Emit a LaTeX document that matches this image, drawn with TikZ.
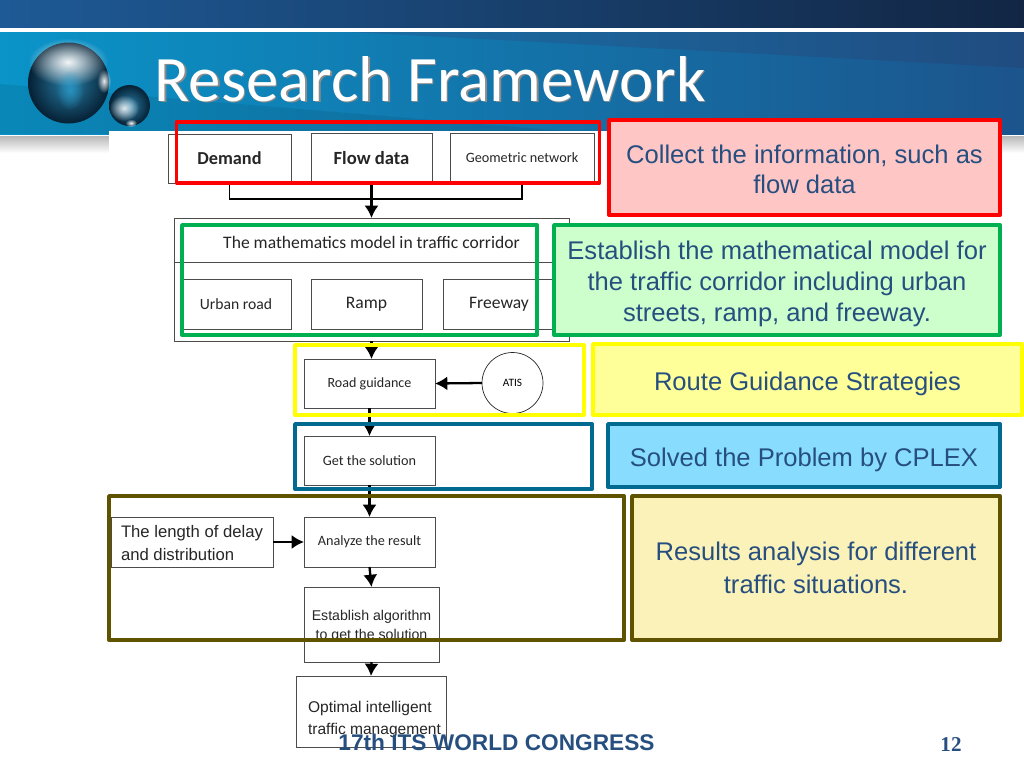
\documentclass[tikz,border=0pt]{standalone}
\usepackage{fontspec}
\setmainfont{Liberation Sans}
\newfontfamily\carlito{Carlito}
\newfontfamily\timesfont{Liberation Serif}
\usetikzlibrary{arrows.meta, fadings}

\definecolor{bodyblue}{HTML}{264F80}
\definecolor{redline}{HTML}{FF0000}
\definecolor{redfill}{HTML}{FFC6C6}
\definecolor{greenline}{HTML}{00B050}
\definecolor{greenfill}{HTML}{CCFFCC}
\definecolor{yellowline}{HTML}{FFFF00}
\definecolor{yellowfill}{HTML}{FFFF99}
\definecolor{blueline}{HTML}{006A90}
\definecolor{bluefill}{HTML}{88DDFF}
\definecolor{oliveline}{HTML}{5F5300}
\definecolor{olivefill}{HTML}{FBF2B9}
\definecolor{topleft}{RGB}{30,90,150}
\definecolor{topright}{RGB}{18,38,68}
\definecolor{bandleft}{RGB}{10,148,200}
\definecolor{bandright}{RGB}{28,84,140}
\definecolor{wedgeleft}{RGB}{25,110,165}
\definecolor{wedgeright}{RGB}{32,76,128}
\definecolor{ballcore}{RGB}{40,125,165}
\definecolor{ballrim}{RGB}{5,32,52}

\tikzfading[name=softspot, inner color=transparent!0, outer color=transparent!100]

\def\px{0.02cm}
\newcommand{\topgap}[1]{\rule{0pt}{#1}}
\tikzset{
	sized/.style 2 args={minimum width=#1*\px, minimum height=#2*\px, inner sep=0pt, outer sep=0pt},
	flowbox/.style 2 args={sized={#1}{#2}, draw=black!70, line width=0.5pt, fill=white, align=center, text=black!85},
	calibri/.style={font=\carlito\fontsize{#1}{12}\selectfont},
	arial/.style={font=\fontsize{#1}{12.8}\selectfont},
	framebox/.style 2 args={sized={#1}{#2}, draw, line width=2.2pt, line join=round},
	infobox/.style 2 args={sized={#1}{#2}, draw, line width=2.2pt, line join=round, align=center, text=bodyblue, font=\fontsize{14.55}{17.4}\selectfont},
	link/.style={-{Latex[length=7pt,width=8pt]}, line width=1.3pt, black},
	spot/.style={path fading=softspot}
}

\begin{document}
\begin{tikzpicture}[x=\px, y=-\px]
	\useasboundingbox (0,0) rectangle (1024,768);
	\fill[white] (0,0) rectangle (1024,768);

	% Header bands
	\shade[left color=topleft, right color=topright] (0,0) rectangle (1024,27);
	\shade[left color=bandleft, right color=bandright] (0,32) rectangle (1024,134);
	\fill[black, opacity=0.08] (0,84) -- (600,134) -- (0,134) -- cycle;
	\shade[left color=wedgeleft, right color=wedgeright] (350,32) -- (1024,32) -- (1024,68) -- cycle;
	\shade[top color=black!28, bottom color=white] (0,136) rectangle (1024,153);
	\fill[white] (109,131) rectangle (607,153);

	% Spheres
	\shade[inner color=ballcore, outer color=ballrim] (68.5,83) circle (40.5);
	\fill[white, opacity=0.95, spot] (68,62) ellipse (40 and 24);
	\fill[cyan!60!teal, opacity=0.8, spot] (70,90) ellipse (14 and 20);
	\fill[white, opacity=0.9, spot] (104,81) ellipse (7 and 12);
	\shade[inner color=ballcore, outer color=ballrim] (129.5,105.5) circle (20.5);
	\fill[white, opacity=0.85, spot] (124,108) ellipse (15 and 13);
	\fill[white, opacity=0.95, spot] (131,123) ellipse (6 and 4);

	% Title
	\node[inner sep=0pt, text=black!45, font=\carlito\fontsize{36.9}{40}\selectfont] (titleshadow) at (431.5,80.5) {Research Framework};
	\node[inner sep=0pt, text=white, font=\carlito\fontsize{36.9}{40}\selectfont] (title) at (430,79) {Research Framework};

	% Input row
	\node[flowbox={123}{49}, font=\carlito\bfseries\fontsize{10.4}{12}\selectfont] (demand) at (229.5,158.5) {Demand};
	\node[flowbox={121}{49}, font=\carlito\bfseries\fontsize{10.6}{12}\selectfont] (flow) at (371.5,158) {Flow data};
	\node[flowbox={144}{49}, calibri=8.1] (geo) at (522,158) {Geometric network};
	\coordinate (bus) at (371.5,199);

	% Model block
	\node[flowbox={395}{44}, calibri=10] (modelhead) at (371.5,240) {\topgap{9.3pt}The mathematics model in traffic corridor};
	\node[flowbox={395}{79}] (modelbody) at (371.5,301.5) {};
	\node[flowbox={110}{50}, calibri=8.9] (urban) at (236,304) {Urban road};
	\node[flowbox={111}{50}, calibri=10] (ramp) at (366.5,304) {Ramp};
	\node[flowbox={112}{50}, calibri=10] (freeway) at (499,304) {Freeway};

	% Middle column
	\node[flowbox={131}{49}, calibri=8] (road) at (369.5,383.5) {Road guidance};
	\node[draw=black!85, circle, minimum size=61*\px, inner sep=0pt, outer sep=0pt, fill=white, calibri=6.4] (atis) at (512.5,383) {ATIS};
	\node[flowbox={131}{49}, calibri=8.1] (solution) at (369.5,460.5) {Get the solution};

	% Lower column
	\node[flowbox={162}{50}, arial=9.5, align=left] (delay) at (192,542) {\topgap{8pt}The length of delay\\and distribution};
	\node[flowbox={131}{50}, calibri=8.1] (analyze) at (369.5,542) {Analyze the result};
	\node[flowbox={135}{75}, font=\fontsize{8.05}{10.8}\selectfont] (establish) at (371.5,624.5) {\topgap{8.2pt}Establish algorithm\\to get the solution};
	\node[flowbox={150}{71}, arial=8.85, align=left] (optimal) at (371,711.5) {\topgap{15.6pt}\hspace*{0.14cm}Optimal intelligent\\\hspace*{0.14cm}traffic management};

	% Connectors
	\draw[line width=0.8pt] (demand.south) |- (bus);
	\draw[line width=0.8pt] (geo.south) |- (bus);
	\draw[link] (flow.south) -- (modelhead.north);
	\draw[link] (modelbody.south) -- (modelbody.south |- road.north);
	\draw[link] (atis.west) -- (road.east);
	\draw[link] (road.south) -- (solution.north);
	\draw[link] (solution.south) -- (analyze.north);
	\draw[link] (delay.east) -- (analyze.west);
	\draw[link] (analyze.south) -- (establish.north);
	\draw[link] (establish.south) -- (optimal.north);

	% Frames over the flow chart
	\node[framebox={423}{61}, draw=redline] (inputframe) at (388,152.5) {};
	\node[framebox={355}{110}, draw=greenline] (modelframe) at (359.5,280) {};
	\node[framebox={289}{70}, draw=yellowline] (guideframe) at (439.5,380) {};
	\node[framebox={297}{65}, draw=blueline] (solveframe) at (443.5,456.5) {};
	\node[framebox={515}{144}, draw=oliveline] (resultframe) at (366.5,568) {};

	% Info boxes
	\node[infobox={391}{95}, draw=redline, fill=redfill] (collect) at (804.5,167.5) {\topgap{12.7pt}Collect the information, such as\\flow data};
	\node[infobox={446}{110}, draw=greenline, fill=greenfill, font=\fontsize{14.55}{17.6}\selectfont] (establishinfo) at (777,280) {\topgap{15pt}Establish the mathematical model for\\the traffic corridor including urban\\streets, ramp, and freeway.};
	\node[infobox={429}{71}, draw=yellowline, fill=yellowfill] (route) at (807.5,379.5) {\topgap{15pt}Route Guidance Strategies};
	\node[infobox={392}{63}, draw=blueline, fill=bluefill] (solved) at (804,455.5) {\topgap{15pt}Solved the Problem by CPLEX};
	\node[infobox={368}{144}, draw=oliveline, fill=olivefill, font=\fontsize{14.55}{18.7}\selectfont] (results) at (816,568) {Results analysis for different\\traffic situations.};

	% Footer
	\node[inner sep=0pt, text=bodyblue, font=\bfseries\fontsize{12.9}{14}\selectfont] (congress) at (496.5,742) {17th ITS WORLD CONGRESS};
	\node[inner sep=0pt, text=bodyblue, font=\timesfont\bfseries\fontsize{12}{14}\selectfont] (pageno) at (951,745) {12};
\end{tikzpicture}
\end{document}
